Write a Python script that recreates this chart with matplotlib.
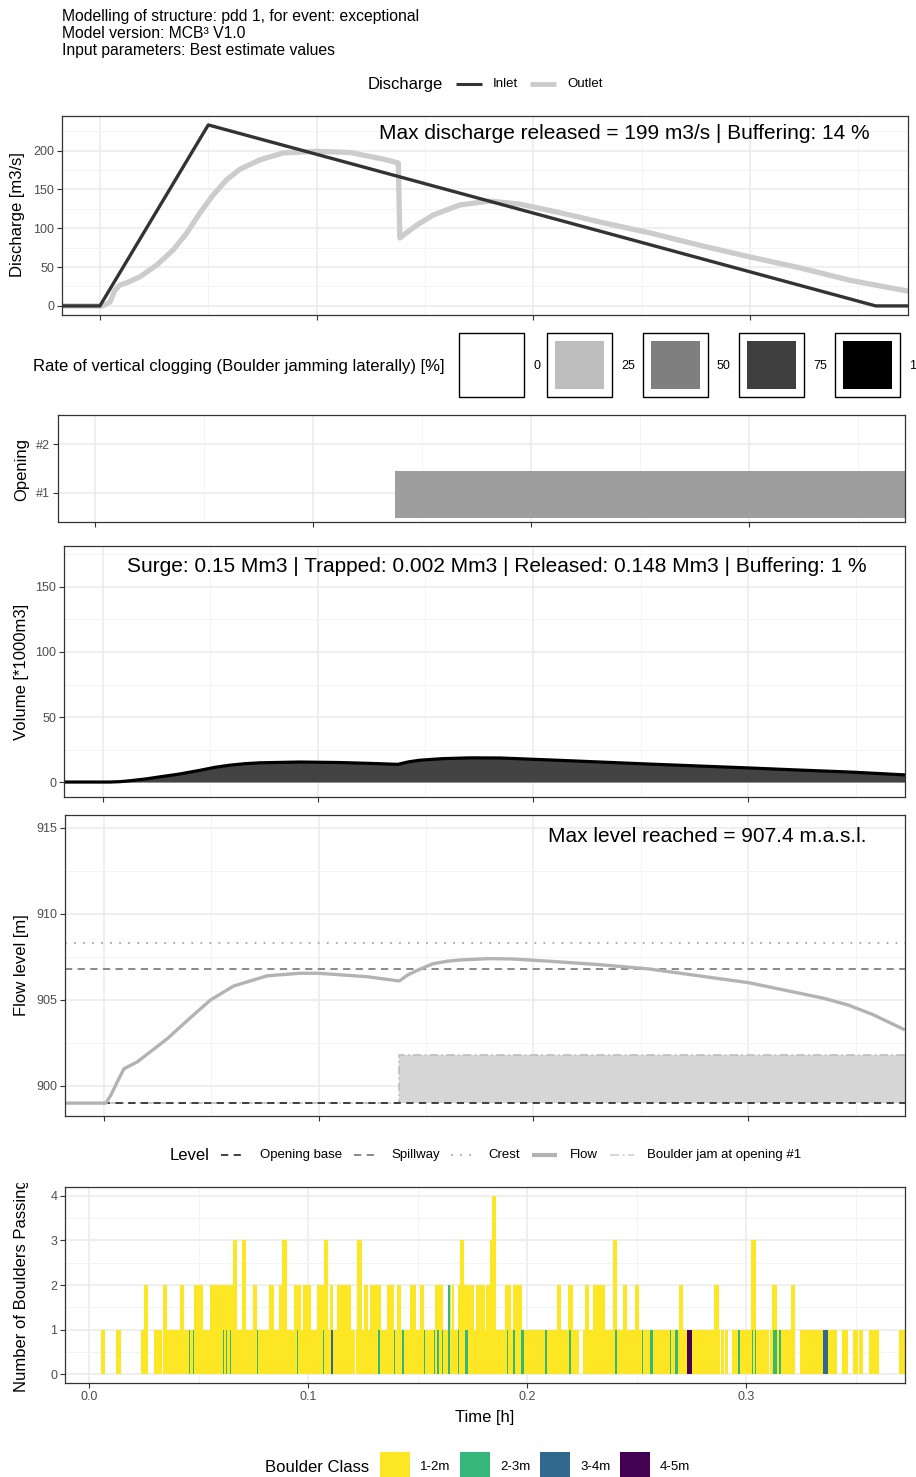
import matplotlib
matplotlib.use("Agg")
import matplotlib.pyplot as plt
from matplotlib.patches import Rectangle
from matplotlib.lines import Line2D
from matplotlib.ticker import MultipleLocator
from matplotlib.transforms import Bbox, TransformedBbox

plt.rcParams['font.family'] = ['Liberation Sans', 'DejaVu Sans']

# ---------------- data ----------------
# discharge [m3/s] vs time [h]
inlet_t = [-0.0175, 0.0, 0.05, 0.358, 0.373]
inlet_q = [0, 0, 233, 0, 0]
outlet_t = [-0.0175, 0.0014, 0.0046, 0.0069, 0.0092, 0.0123, 0.0185, 0.0262, 0.0338,
            0.0400, 0.0461, 0.0523, 0.0585, 0.0646, 0.0738, 0.0846, 0.1, 0.1154,
            0.1307, 0.1377, 0.1384, 0.1462, 0.1538, 0.1661, 0.18, 0.1938, 0.2123,
            0.2307, 0.2538, 0.2769, 0.3, 0.323, 0.3461, 0.3729]
outlet_q = [0, 0, 5, 20, 26.8, 29.8, 37.5, 52.6, 72, 93.6, 119.5, 143, 162.5, 176, 188,
            197, 199, 197.5, 189, 184, 87.5, 104, 117, 130, 135, 131, 120, 108, 94, 78,
            63, 49, 33, 19]

# clogging of opening #1 (start of jam [h])
jam_start = 0.1375
jam_end = 0.38

# stored volume [*1000 m3]
vol_t = [-0.0181, 0.0033, 0.008, 0.0126, 0.02, 0.0265, 0.035, 0.0451, 0.052, 0.0591,
         0.066, 0.073, 0.0916, 0.1102, 0.125, 0.1372, 0.142, 0.1474, 0.158, 0.1707,
         0.1847, 0.2079, 0.2312, 0.2544, 0.2777, 0.3009, 0.3242, 0.3474, 0.373]
vol_v = [0, 0, 0.3, 1.0, 2.4, 4.0, 6.0, 9, 11.3, 13, 14.1, 14.8, 15.4, 15, 14.3, 13.6,
         15.5, 16.8, 18, 18.6, 18.5, 17, 15.4, 13.8, 12.3, 10.8, 9.2, 7.7, 5.5]

# flow level [m a.s.l.]
flow_t = [-0.0176, 0.0009, 0.0032, 0.0065, 0.0094, 0.0156, 0.0218, 0.0296, 0.0388,
          0.0497, 0.0603, 0.076, 0.0914, 0.0998, 0.1224, 0.1375, 0.1415, 0.1456,
          0.1531, 0.16, 0.1657, 0.1796, 0.19, 0.2074, 0.2306, 0.2538, 0.277, 0.3002,
          0.3118, 0.335, 0.3466, 0.358, 0.3722]
flow_h = [899.0, 899.0, 899.45, 900.3, 901.0, 901.4, 902.0, 902.75, 903.8, 905.0,
          905.8, 906.4, 906.55, 906.55, 906.35, 906.1, 906.45, 906.7, 907.1, 907.25,
          907.32, 907.4, 907.38, 907.25, 907.05, 906.8, 906.4, 906.0, 905.7, 905.1,
          904.7, 904.15, 903.3]
opening_base = 899.0
spillway = 906.8
crest = 908.3
jam_t = [-0.02, jam_start, jam_start, 0.38]
jam_h = [899.0, 899.0, 901.8, 901.8]

# boulders passing: time intervals [h] where count >= 1, 2, 3, 4
passing_ge1 = [(0.0053, 0.0073), (0.0123, 0.0145), (0.0237, 0.0271), (0.0298, 0.0334),
               (0.0338, 0.1213), (0.1217, 0.2239), (0.2257, 0.2881), (0.2884, 0.2901),
               (0.2904, 0.2919), (0.2935, 0.3105), (0.3110, 0.3224), (0.3246, 0.3414),
               (0.3437, 0.3467), (0.3487, 0.3510), (0.3516, 0.3536), (0.3562, 0.3609),
               (0.3700, 0.3730)]
passing_ge2 = [(0.0253, 0.0271), (0.0339, 0.0358), (0.0415, 0.0435), (0.0481, 0.0519),
               (0.0552, 0.0674), (0.0697, 0.0715), (0.0747, 0.0769), (0.0823, 0.0845),
               (0.0868, 0.0906), (0.0936, 0.0968), (0.0979, 0.1014), (0.1040, 0.1089),
               (0.1098, 0.1116), (0.1131, 0.1196), (0.1225, 0.1245), (0.1257, 0.1275),
               (0.1283, 0.1333), (0.1359, 0.1393), (0.1405, 0.1423), (0.1465, 0.1493),
               (0.1511, 0.1530), (0.1580, 0.1615), (0.1641, 0.1653), (0.1656, 0.1668),
               (0.1686, 0.1758), (0.1767, 0.1808), (0.1813, 0.1858), (0.1900, 0.1927),
               (0.1935, 0.1976), (0.2135, 0.2155), (0.2186, 0.2208), (0.2265, 0.2283),
               (0.2300, 0.2356), (0.2391, 0.2413), (0.2437, 0.2456), (0.2493, 0.2513),
               (0.2694, 0.2712), (0.2854, 0.2877), (0.3023, 0.3044), (0.3120, 0.3140),
               (0.3204, 0.3224)]
passing_ge3 = [(0.0656, 0.0674), (0.0697, 0.0715), (0.0880, 0.0903), (0.1071, 0.1089),
               (0.1225, 0.1245), (0.1694, 0.1712), (0.1831, 0.1858), (0.2391, 0.2413),
               (0.3023, 0.3044)]
passing_ge4 = [(0.1842, 0.1858)]

# larger boulders (start, end, count)
class_23 = [(0.0454, 0.0461, 1), (0.0476, 0.0481, 1), (0.0610, 0.0616, 1), (0.0624, 0.0629, 1),
            (0.0644, 0.0650, 1), (0.0765, 0.0773, 1), (0.0948, 0.0953, 1), (0.1070, 0.1075, 1),
            (0.1321, 0.1327, 1), (0.1393, 0.1397, 1), (0.1427, 0.1440, 1), (0.1531, 0.1536, 1),
            (0.1575, 0.1580, 1), (0.1588, 0.1597, 1), (0.1610, 0.1616, 1), (0.1641, 0.1650, 2),
            (0.1686, 0.1691, 1), (0.1717, 0.1732, 1), (0.1907, 0.1915, 1), (0.1938, 0.1944, 1),
            (0.1971, 0.1988, 1), (0.2082, 0.2090, 1), (0.2190, 0.2199, 1), (0.2401, 0.2409, 1),
            (0.2523, 0.2529, 1), (0.2561, 0.2573, 1), (0.2653, 0.2657, 1), (0.2676, 0.2688, 1),
            (0.2965, 0.2973, 1), (0.3026, 0.3032, 1), (0.3040, 0.3046, 1), (0.3122, 0.3140, 1),
            (0.3152, 0.3158, 1)]
class_34 = [(0.1106, 0.1116, 1), (0.3353, 0.3376, 1)]
class_45 = [(0.2729, 0.2752, 1)]

boulder_classes = ['1-2m', '2-3m', '3-4m', '4-5m']
boulder_colors = ['#FDE725', '#35B779', '#31688E', '#440154']
clog_levels = ['0', '25', '50', '75', '100']
clog_colors = ['#FFFFFF', '#BEBEBE', '#7F7F7F', '#3F3F3F', '#000000']

title_lines = ["Modelling of structure: pdd 1, for event: exceptional",
               "Model version: MCB\u00b3 V1.0",
               "Input parameters: Best estimate values"]

# ---------------- layout helpers (pixel based) ----------------
W, H = 916, 1477
fig = plt.figure(figsize=(W / 100, H / 100), dpi=100)


def fx(x):
    return x / W


def fy(y):
    return 1 - y / H


def panel(l, t, r, b):
    return fig.add_axes([l / W, 1 - b / H, (r - l) / W, (b - t) / H])


def style(ax, xlim, show_x=False):
    ax.set_xlim(xlim)
    ax.xaxis.set_major_locator(MultipleLocator(0.1))
    ax.xaxis.set_minor_locator(MultipleLocator(0.05))
    ax.grid(which='major', color='#EBEBEB', lw=1.1)
    ax.grid(which='minor', color='#F2F2F2', lw=0.6)
    ax.set_axisbelow(True)
    for s in ax.spines.values():
        s.set_color('#333333')
        s.set_linewidth(0.9)
    ax.tick_params(which='major', length=3.5, width=0.8, color='#333333',
                   labelsize=9, labelcolor='#4D4D4D', pad=2)
    ax.tick_params(which='minor', length=0)
    ax.tick_params(axis='x', labelbottom=show_x)


def ylabel(x, yc, text):
    return fig.text(fx(x), fy(yc), text, rotation=90, ha='center', va='center', size=12)


def key_line(x0, x1, y, **kw):
    fig.add_artist(Line2D([fx(x0), fx(x1)], [fy(y), fy(y)], transform=fig.transFigure, **kw))


def key_box(l, t, r, b, **kw):
    fig.add_artist(Rectangle((fx(l), fy(b)), (r - l) / W, (b - t) / H,
                             transform=fig.transFigure, **kw))


def label(x, y, text, size=9.5):
    fig.text(fx(x), fy(y), text, ha='left', va='center', size=size)


# ---------------- header ----------------
for i, line in enumerate(title_lines):
    fig.text(fx(62), fy(16 + 17 * i), line, ha='left', va='center', size=11.3)

label(368, 84, 'Discharge', size=12)
key_line(456, 482, 84, color='#333333', lw=2.2, solid_capstyle='butt')
label(493, 84, 'Inlet')
key_line(530, 556, 84, color='#CCCCCC', lw=3.5, solid_capstyle='butt')
label(567, 84, 'Outlet')

# ---------------- discharge ----------------
ax1 = panel(62, 116, 908, 315)
ax1.plot(outlet_t, outlet_q, color='#CCCCCC', lw=3.8, solid_joinstyle='round')
ax1.plot(inlet_t, inlet_q, color='#333333', lw=2.4)
style(ax1, (-0.0175, 0.3729))
ax1.set_ylim(-11.7, 244.5)
ax1.yaxis.set_major_locator(MultipleLocator(50))
ax1.yaxis.set_minor_locator(MultipleLocator(25))
ax1.text(0.355, 222, 'Max discharge released = %d m3/s | Buffering: 14 %%' % round(max(outlet_q)),
         ha='right', va='center', size=15)
ylabel(18, 215, 'Discharge [m3/s]')

# ---------------- clogging legend ----------------
label(33, 366, 'Rate of vertical clogging (Boulder jamming laterally) [%]', size=12)
clog_box_left = [459, 547, 643, 739, 835]
for l, lev, col in zip(clog_box_left, clog_levels, clog_colors):
    key_box(l, 333, l + 65, 397, fc='white', ec='black', lw=1.0)
    key_box(l + 8, 341, l + 57, 389, fc=col, ec='none')
    label(l + 74, 366, lev, size=9)

# ---------------- opening clogging ----------------
ax2 = panel(58, 415, 905, 522)
ax2.barh([0.965], [jam_end - jam_start], left=[jam_start], height=0.97,
         color='#9E9E9E', lw=0)
style(ax2, (-0.0170, 0.3716))
ax2.set_ylim(0.4, 2.6)
ax2.set_yticks([1, 2])
ax2.set_yticklabels(['#1', '#2'])
ax2.yaxis.set_minor_locator(MultipleLocator(10))
ylabel(22, 469, 'Opening')

# ---------------- volume ----------------
ax3 = panel(64, 546, 905, 797)
ax3.fill_between(vol_t, 0, vol_v, color='#434343', lw=0)
ax3.plot(vol_t, vol_v, color='black', lw=2.3)
style(ax3, (-0.0181, 0.3730))
ax3.set_ylim(-11.5, 181.5)
ax3.yaxis.set_major_locator(MultipleLocator(50))
ax3.yaxis.set_minor_locator(MultipleLocator(25))
ax3.text(0.355, 166, 'Surge: 0.15 Mm3 | Trapped: 0.002 Mm3 | Released: 0.148 Mm3 | Buffering: 1 %',
         ha='right', va='center', size=15)
ylabel(22, 672, 'Volume [*1000m3]')

# ---------------- flow level ----------------
ax4 = panel(65, 815, 905, 1116)
ax4.fill_between(jam_t, opening_base, jam_h, color='#D6D6D6', lw=0)
ax4.plot(jam_t, jam_h, color='#BEBEBE', lw=1.2, dashes=(5, 2, 1, 2))
ax4.axhline(opening_base, color='#333333', lw=1.3, dashes=(4, 3))
ax4.axhline(spillway, color='#7F7F7F', lw=1.3, dashes=(4, 3))
ax4.axhline(crest, color='#A8A8A8', lw=1.3, dashes=(1, 4))
ax4.plot(flow_t, flow_h, color='#B3B3B3', lw=2.4)
style(ax4, (-0.0181, 0.3730))
ax4.set_ylim(898.25, 915.75)
ax4.yaxis.set_major_locator(MultipleLocator(5))
ax4.yaxis.set_minor_locator(MultipleLocator(2.5))
ax4.text(0.355, 914.5, 'Max level reached = %.1f m.a.s.l.' % max(flow_h),
         ha='right', va='center', size=15)
ylabel(22, 965, 'Flow level [m]')

# level legend
label(170, 1155, 'Level', size=12)
key_line(221, 246, 1155, color='#333333', lw=1.3, dashes=(4, 3))
label(260, 1155, 'Opening base')
key_line(354, 378, 1155, color='#7F7F7F', lw=1.3, dashes=(4, 3))
label(391, 1155, 'Spillway')
key_line(451, 475, 1155, color='#A8A8A8', lw=1.3, dashes=(1, 4))
label(488, 1155, 'Crest')
key_line(532, 557, 1155, color='#B3B3B3', lw=3.0, solid_capstyle='butt')
label(570, 1155, 'Flow')
key_line(610, 634, 1155, color='#D3D3D3', lw=1.3, dashes=(5, 2, 1, 2))
label(647, 1155, 'Boulder jam at opening #1')

# ---------------- boulders ----------------
ax5 = panel(65, 1187, 905, 1383)
for level, runs in enumerate([passing_ge1, passing_ge2, passing_ge3, passing_ge4]):
    ax5.bar([a for a, b in runs], 1, width=[b - a for a, b in runs], bottom=level,
            align='edge', color=boulder_colors[0], lw=0)
for runs, col in zip([class_23, class_34, class_45], boulder_colors[1:]):
    ax5.bar([a for a, b, n in runs], [n for a, b, n in runs],
            width=[b - a for a, b, n in runs], align='edge', color=col, lw=0)
style(ax5, (-0.0110, 0.3726), show_x=True)
ax5.set_ylim(-0.2, 4.2)
ax5.yaxis.set_major_locator(MultipleLocator(1))
ax5.yaxis.set_minor_locator(MultipleLocator(0.5))
ax5.xaxis.set_major_formatter(lambda v, p: '%.1f' % v)
ax5.set_xlabel('Time [h]', size=12, labelpad=5)
yl = ylabel(22, 1286, 'Number of Boulders Passing')
yl.set_clip_on(True)
yl.set_clip_box(TransformedBbox(Bbox([[0, 0], [1, fy(1183)]]), fig.transFigure))

# boulder class legend
label(265, 1467, 'Boulder Class', size=12)
for i, (cls, col) in enumerate(zip(boulder_classes, boulder_colors)):
    l = 380 + 80 * i
    key_box(l, 1452, l + 30, 1484, fc=col, ec='none')
    label(l + 40, 1467, cls, size=9.5)

fig.savefig('out.png', dpi=100)
